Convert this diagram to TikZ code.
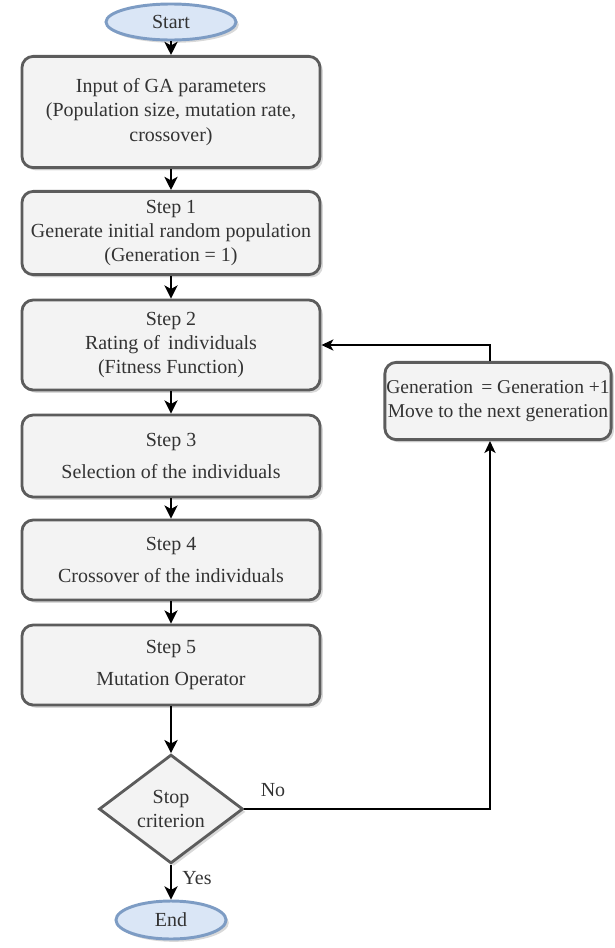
\documentclass[tikz,border=0pt]{standalone}
\usepackage{fontspec}
\setmainfont{Liberation Serif}
\usetikzlibrary{shapes.geometric,shadows,arrows.meta}
\definecolor{termfill}{HTML}{DAE6F6}
\definecolor{termline}{HTML}{7D9CC4}
\definecolor{boxfill}{HTML}{F3F3F3}
\definecolor{boxline}{HTML}{5C5C5C}
\definecolor{txt}{HTML}{333333}

\begin{document}
\begin{tikzpicture}[x=0.025cm,y=-0.025cm,
  every node/.style={font=\fontsize{14.2}{17.2}\selectfont,text=txt,align=center},
  term/.style={ellipse,draw=termline,fill=termfill,line width=2.1pt,inner sep=0pt,
    drop shadow={shadow xshift=2pt,shadow yshift=-2pt,opacity=0.3}},
  stepbox/.style={rectangle,rounded corners=8pt,draw=boxline,fill=boxfill,line width=2pt,
    minimum width=7.45cm,drop shadow={shadow xshift=2pt,shadow yshift=-2pt,opacity=0.3}},
  decision/.style={diamond,draw=boxline,fill=boxfill,line width=2pt,inner sep=0pt,
    minimum width=3.6cm,minimum height=2.72cm,
    drop shadow={shadow xshift=2pt,shadow yshift=-2pt,opacity=0.3}},
  flow/.style={-{Stealth[length=3.3mm,width=3.3mm,inset=0.9mm]},line width=1.4pt},
  back/.style={-{Stealth[length=3mm,width=2.8mm,inset=0.8mm]},line width=0.9pt}]
  \useasboundingbox (0,0) rectangle (615,948);
  % main column
  \node[term,minimum width=3.25cm,minimum height=0.9cm] (start) at (171,22) {Start};
  \node[stepbox,minimum height=2.78cm] (input) at (171,112) {Input of GA parameters\\(Population size, mutation rate,\\crossover)};
  \node[stepbox,minimum height=2.08cm] (s1) at (171,233) {Step 1\\Generate initial random population\\(Generation = 1)};
  \node[stepbox,minimum height=2.25cm] (s2) at (171,345) {Step 2\\Rating of\, individuals\\(Fitness Function)};
  \node[stepbox,minimum height=2.05cm] (s3) at (171,456) {Step 3\\[5pt]Selection of the individuals};
  \node[stepbox,minimum height=2.0cm] (s4) at (171,560) {Step 4\\[5pt]Crossover of the individuals};
  \node[stepbox,minimum height=2.0cm] (s5) at (171,665) {Step 5\\[5pt]Mutation Operator};
  \node[decision] (stop) at (171,809) {Stop\\criterion};
  \node[term,minimum width=2.75cm,minimum height=0.95cm] (end) at (171,920) {End};
  % loop back
  \node[stepbox,minimum width=5.55cm,minimum height=1.93cm,inner sep=1pt,
    font=\fontsize{13.9}{17}\selectfont] (next) at (498,401) {Generation\, = Generation +1\\Move to the next generation};
  \coordinate (loopx) at (490,0);
  \draw[flow] (start) -- (input); \draw[flow] (input) -- (s1); \draw[flow] (s1) -- (s2);
  \draw[flow] (s2) -- (s3); \draw[flow] (s3) -- (s4); \draw[flow] (s4) -- (s5);
  \draw[flow] (s5) -- (stop); \draw[flow] (stop) -- (end);
  \draw[back] (stop.east) -| (loopx |- next.south);
  \draw[back] (loopx |- next.north) |- (s2.east);
  \node (no) at (273,790) {No};
  \node (yes) at (197,878) {Yes};
\end{tikzpicture}
\end{document}
